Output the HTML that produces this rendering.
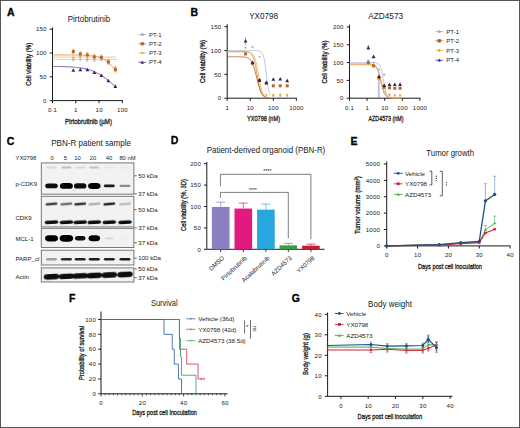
<!DOCTYPE html><html><head><meta charset="utf-8"><style>html,body{margin:0;padding:0;background:#fff;}svg{display:block;}</style></head><body>
<svg width="520" height="428" viewBox="0 0 520 428" font-family='"Liberation Sans", sans-serif'>
<rect x="0" y="0" width="520" height="428" fill="#fff"/>
<text x="7.00" y="15.60" font-size="10.5" text-anchor="start" font-weight="bold" fill="#000" stroke="#000" stroke-width="0.3">A</text>
<text x="89.00" y="21.60" font-size="8.6" text-anchor="middle" textLength="42.4" lengthAdjust="spacingAndGlyphs" fill="#1a1a1a">Pirtobrutinib</text>
<line x1="52.50" y1="27.50" x2="52.50" y2="100.60" stroke="#1a1a1a" stroke-width="1.0" />
<line x1="49.70" y1="100.60" x2="52.50" y2="100.60" stroke="#1a1a1a" stroke-width="1.0" />
<text x="46.70" y="102.80" font-size="6.1" text-anchor="end" font-weight="normal" fill="#1a1a1a" letter-spacing="0.2">0</text>
<line x1="49.70" y1="76.80" x2="52.50" y2="76.80" stroke="#1a1a1a" stroke-width="1.0" />
<text x="46.70" y="79.00" font-size="6.1" text-anchor="end" font-weight="normal" fill="#1a1a1a" letter-spacing="0.2">50</text>
<line x1="49.70" y1="53.00" x2="52.50" y2="53.00" stroke="#1a1a1a" stroke-width="1.0" />
<text x="46.70" y="55.20" font-size="6.1" text-anchor="end" font-weight="normal" fill="#1a1a1a" letter-spacing="0.2">100</text>
<line x1="49.70" y1="29.20" x2="52.50" y2="29.20" stroke="#1a1a1a" stroke-width="1.0" />
<text x="46.70" y="31.40" font-size="6.1" text-anchor="end" font-weight="normal" fill="#1a1a1a" letter-spacing="0.2">150</text>
<line x1="52.50" y1="100.60" x2="122.80" y2="100.60" stroke="#1a1a1a" stroke-width="1.0" />
<line x1="52.50" y1="100.60" x2="52.50" y2="103.20" stroke="#1a1a1a" stroke-width="1.0" />
<text x="52.60" y="112.00" font-size="6.1" text-anchor="middle" font-weight="normal" fill="#1a1a1a" letter-spacing="0.2">0.1</text>
<line x1="75.80" y1="100.60" x2="75.80" y2="103.20" stroke="#1a1a1a" stroke-width="1.0" />
<text x="75.90" y="112.00" font-size="6.1" text-anchor="middle" font-weight="normal" fill="#1a1a1a" letter-spacing="0.2">1</text>
<line x1="99.10" y1="100.60" x2="99.10" y2="103.20" stroke="#1a1a1a" stroke-width="1.0" />
<text x="99.20" y="112.00" font-size="6.1" text-anchor="middle" font-weight="normal" fill="#1a1a1a" letter-spacing="0.2">10</text>
<line x1="122.40" y1="100.60" x2="122.40" y2="103.20" stroke="#1a1a1a" stroke-width="1.0" />
<text x="122.50" y="112.00" font-size="6.1" text-anchor="middle" font-weight="normal" fill="#1a1a1a" letter-spacing="0.2">100</text>
<text x="28.40" y="67.18" font-size="8" text-anchor="middle" textLength="43" lengthAdjust="spacingAndGlyphs" fill="#1a1a1a" font-weight="normal" stroke="#1a1a1a" stroke-width="0.32" transform="rotate(-90 28.40 64.30)">Cell viability (%)</text>
<text x="88.50" y="123.88" font-size="8" text-anchor="middle" textLength="47" lengthAdjust="spacingAndGlyphs" fill="#1a1a1a" font-weight="normal" stroke="#1a1a1a" stroke-width="0.32">Pirtobrutinib (µM)</text>
<polyline points="52.50,59.43 53.58,59.43 54.66,59.43 55.74,59.43 56.82,59.43 57.90,59.43 58.98,59.43 60.06,59.43 61.14,59.43 62.22,59.43 63.30,59.43 64.38,59.43 65.45,59.43 66.53,59.43 67.61,59.43 68.69,59.43 69.77,59.43 70.85,59.43 71.93,59.43 73.01,59.43 74.09,59.43 75.17,59.43 76.25,59.43 77.33,59.43 78.41,59.43 79.49,59.43 80.57,59.43 81.65,59.43 82.73,59.43 83.81,59.43 84.89,59.43 85.97,59.43 87.05,59.43 88.13,59.43 89.21,59.43 90.28,59.43 91.36,59.43 92.44,59.43 93.52,59.43 94.60,59.43 95.68,59.43 96.76,59.43 97.84,59.43 98.92,59.43 100.00,59.43 101.08,59.43 102.16,59.43 103.24,59.43 104.32,59.43 105.40,59.43 106.48,59.43 107.56,59.43 108.64,59.43 109.72,59.43 110.80,59.43 111.88,59.43 112.96,59.43 114.04,59.43 115.11,59.43 116.19,59.43 117.27,59.43" stroke="#c0c4d4" stroke-width="0.8" fill="none" stroke-linejoin="miter" />
<polyline points="52.50,57.05 53.56,57.05 54.61,57.05 55.67,57.05 56.73,57.05 57.78,57.05 58.84,57.05 59.89,57.05 60.95,57.05 62.01,57.05 63.06,57.05 64.12,57.05 65.18,57.05 66.23,57.05 67.29,57.05 68.34,57.05 69.40,57.05 70.46,57.05 71.51,57.05 72.57,57.05 73.63,57.05 74.68,57.05 75.74,57.05 76.79,57.05 77.85,57.05 78.91,57.05 79.96,57.05 81.02,57.05 82.08,57.05 83.13,57.05 84.19,57.05 85.24,57.05 86.30,57.05 87.36,57.05 88.41,57.05 89.47,57.05 90.53,57.05 91.58,57.05 92.64,57.05 93.69,57.05 94.75,57.05 95.81,57.05 96.86,57.05 97.92,57.05 98.98,57.05 100.03,57.05 101.09,57.05 102.14,57.05 103.20,57.05 104.26,57.05 105.31,57.05 106.37,57.05 107.43,57.05 108.48,57.05 109.54,57.05 110.59,57.05 111.65,57.05 112.71,57.05 113.76,57.05 114.82,57.05 115.88,57.05" stroke="#f2b060" stroke-width="0.7" fill="none" stroke-linejoin="miter" />
<polyline points="52.50,54.91 53.55,54.91 54.60,54.91 55.65,54.91 56.69,54.91 57.74,54.91 58.79,54.91 59.84,54.92 60.89,54.92 61.94,54.92 62.98,54.92 64.03,54.93 65.08,54.93 66.13,54.93 67.18,54.94 68.23,54.94 69.28,54.95 70.32,54.95 71.37,54.96 72.42,54.97 73.47,54.98 74.52,54.99 75.57,55.01 76.62,55.02 77.66,55.04 78.71,55.06 79.76,55.09 80.81,55.11 81.86,55.15 82.91,55.18 83.95,55.23 85.00,55.28 86.05,55.33 87.10,55.40 88.15,55.47 89.20,55.56 90.25,55.66 91.29,55.77 92.34,55.90 93.39,56.05 94.44,56.22 95.49,56.42 96.54,56.64 97.59,56.90 98.63,57.19 99.68,57.52 100.73,57.89 101.78,58.32 102.83,58.80 103.88,59.34 104.93,59.95 105.97,60.62 107.02,61.38 108.07,62.21 109.12,63.14 110.17,64.15 111.22,65.25 112.26,66.43 113.31,67.71 114.36,69.07 115.41,70.50" stroke="#d8843a" stroke-width="0.8" fill="none" stroke-linejoin="miter" />
<polyline points="52.50,66.44 53.55,66.46 54.60,66.47 55.65,66.48 56.69,66.50 57.74,66.52 58.79,66.54 59.84,66.56 60.89,66.58 61.94,66.61 62.98,66.64 64.03,66.67 65.08,66.71 66.13,66.75 67.18,66.79 68.23,66.84 69.28,66.90 70.32,66.96 71.37,67.02 72.42,67.09 73.47,67.17 74.52,67.26 75.57,67.35 76.62,67.46 77.66,67.57 78.71,67.70 79.76,67.84 80.81,67.99 81.86,68.16 82.91,68.34 83.95,68.54 85.00,68.75 86.05,68.99 87.10,69.25 88.15,69.53 89.20,69.83 90.25,70.16 91.29,70.52 92.34,70.90 93.39,71.31 94.44,71.76 95.49,72.23 96.54,72.74 97.59,73.28 98.63,73.85 99.68,74.46 100.73,75.10 101.78,75.77 102.83,76.47 103.88,77.21 104.93,77.97 105.97,78.75 107.02,79.56 108.07,80.38 109.12,81.22 110.17,82.07 111.22,82.93 112.26,83.79 113.31,84.65 114.36,85.51 115.41,86.35" stroke="#6a4fae" stroke-width="0.9" fill="none" stroke-linejoin="miter" />
<line x1="73.30" y1="49.19" x2="73.30" y2="53.95" stroke="#d8843a" stroke-width="0.5" />
<line x1="72.30" y1="49.19" x2="74.30" y2="49.19" stroke="#d8843a" stroke-width="0.5" />
<line x1="72.30" y1="53.95" x2="74.30" y2="53.95" stroke="#d8843a" stroke-width="0.5" />
<line x1="73.30" y1="55.38" x2="73.30" y2="60.62" stroke="#f3b870" stroke-width="0.5" />
<line x1="72.30" y1="55.38" x2="74.30" y2="55.38" stroke="#f3b870" stroke-width="0.5" />
<line x1="72.30" y1="60.62" x2="74.30" y2="60.62" stroke="#f3b870" stroke-width="0.5" />
<circle cx="73.30" cy="59.66" r="1.10" fill="#a9b1cc"/>
<path d="M73.30,56.36 L74.70,57.76 L73.30,59.16 L71.90,57.76 Z" fill="#f0a640"/>
<rect x="71.80" y="50.07" width="3.00" height="3.00" fill="#b4662a"/>
<path d="M73.30,68.16 L75.19,71.72 L71.41,71.72 Z" fill="#35215e"/>
<line x1="80.32" y1="51.57" x2="80.32" y2="56.33" stroke="#d8843a" stroke-width="0.5" />
<line x1="79.32" y1="51.57" x2="81.32" y2="51.57" stroke="#d8843a" stroke-width="0.5" />
<line x1="79.32" y1="56.33" x2="81.32" y2="56.33" stroke="#d8843a" stroke-width="0.5" />
<line x1="80.32" y1="54.43" x2="80.32" y2="59.66" stroke="#f3b870" stroke-width="0.5" />
<line x1="79.32" y1="54.43" x2="81.32" y2="54.43" stroke="#f3b870" stroke-width="0.5" />
<line x1="79.32" y1="59.66" x2="81.32" y2="59.66" stroke="#f3b870" stroke-width="0.5" />
<circle cx="80.32" cy="59.66" r="1.10" fill="#a9b1cc"/>
<path d="M80.32,55.41 L81.72,56.81 L80.32,58.21 L78.92,56.81 Z" fill="#f0a640"/>
<rect x="78.82" y="52.45" width="3.00" height="3.00" fill="#b4662a"/>
<path d="M80.32,67.68 L82.21,71.24 L78.43,71.24 Z" fill="#35215e"/>
<line x1="87.33" y1="52.52" x2="87.33" y2="57.28" stroke="#d8843a" stroke-width="0.5" />
<line x1="86.33" y1="52.52" x2="88.33" y2="52.52" stroke="#d8843a" stroke-width="0.5" />
<line x1="86.33" y1="57.28" x2="88.33" y2="57.28" stroke="#d8843a" stroke-width="0.5" />
<line x1="87.33" y1="56.33" x2="87.33" y2="61.57" stroke="#f3b870" stroke-width="0.5" />
<line x1="86.33" y1="56.33" x2="88.33" y2="56.33" stroke="#f3b870" stroke-width="0.5" />
<line x1="86.33" y1="61.57" x2="88.33" y2="61.57" stroke="#f3b870" stroke-width="0.5" />
<circle cx="87.33" cy="60.14" r="1.10" fill="#a9b1cc"/>
<path d="M87.33,57.31 L88.73,58.71 L87.33,60.11 L85.93,58.71 Z" fill="#f0a640"/>
<rect x="85.83" y="53.40" width="3.00" height="3.00" fill="#b4662a"/>
<path d="M87.33,67.68 L89.22,71.24 L85.44,71.24 Z" fill="#35215e"/>
<line x1="94.34" y1="54.43" x2="94.34" y2="59.19" stroke="#d8843a" stroke-width="0.5" />
<line x1="93.34" y1="54.43" x2="95.34" y2="54.43" stroke="#d8843a" stroke-width="0.5" />
<line x1="93.34" y1="59.19" x2="95.34" y2="59.19" stroke="#d8843a" stroke-width="0.5" />
<line x1="94.34" y1="56.33" x2="94.34" y2="61.57" stroke="#f3b870" stroke-width="0.5" />
<line x1="93.34" y1="56.33" x2="95.34" y2="56.33" stroke="#f3b870" stroke-width="0.5" />
<line x1="93.34" y1="61.57" x2="95.34" y2="61.57" stroke="#f3b870" stroke-width="0.5" />
<circle cx="94.34" cy="60.62" r="1.10" fill="#a9b1cc"/>
<path d="M94.34,57.31 L95.74,58.71 L94.34,60.11 L92.94,58.71 Z" fill="#f0a640"/>
<rect x="92.84" y="55.31" width="3.00" height="3.00" fill="#b4662a"/>
<path d="M94.34,70.54 L96.23,74.10 L92.45,74.10 Z" fill="#35215e"/>
<line x1="101.36" y1="54.90" x2="101.36" y2="59.66" stroke="#d8843a" stroke-width="0.5" />
<line x1="100.36" y1="54.90" x2="102.36" y2="54.90" stroke="#d8843a" stroke-width="0.5" />
<line x1="100.36" y1="59.66" x2="102.36" y2="59.66" stroke="#d8843a" stroke-width="0.5" />
<line x1="101.36" y1="55.38" x2="101.36" y2="60.62" stroke="#f3b870" stroke-width="0.5" />
<line x1="100.36" y1="55.38" x2="102.36" y2="55.38" stroke="#f3b870" stroke-width="0.5" />
<line x1="100.36" y1="60.62" x2="102.36" y2="60.62" stroke="#f3b870" stroke-width="0.5" />
<circle cx="101.36" cy="60.14" r="1.10" fill="#a9b1cc"/>
<path d="M101.36,56.36 L102.76,57.76 L101.36,59.16 L99.96,57.76 Z" fill="#f0a640"/>
<rect x="99.86" y="55.78" width="3.00" height="3.00" fill="#b4662a"/>
<path d="M101.36,73.39 L103.25,76.96 L99.47,76.96 Z" fill="#35215e"/>
<line x1="108.37" y1="59.66" x2="108.37" y2="64.42" stroke="#d8843a" stroke-width="0.5" />
<line x1="107.37" y1="59.66" x2="109.37" y2="59.66" stroke="#d8843a" stroke-width="0.5" />
<line x1="107.37" y1="64.42" x2="109.37" y2="64.42" stroke="#d8843a" stroke-width="0.5" />
<line x1="108.37" y1="58.24" x2="108.37" y2="63.47" stroke="#f3b870" stroke-width="0.5" />
<line x1="107.37" y1="58.24" x2="109.37" y2="58.24" stroke="#f3b870" stroke-width="0.5" />
<line x1="107.37" y1="63.47" x2="109.37" y2="63.47" stroke="#f3b870" stroke-width="0.5" />
<circle cx="108.37" cy="60.62" r="1.10" fill="#a9b1cc"/>
<path d="M108.37,59.22 L109.77,60.62 L108.37,62.02 L106.97,60.62 Z" fill="#f0a640"/>
<rect x="106.87" y="60.54" width="3.00" height="3.00" fill="#b4662a"/>
<path d="M108.37,78.63 L110.26,82.19 L106.48,82.19 Z" fill="#35215e"/>
<line x1="115.39" y1="67.28" x2="115.39" y2="72.04" stroke="#d8843a" stroke-width="0.5" />
<line x1="114.39" y1="67.28" x2="116.39" y2="67.28" stroke="#d8843a" stroke-width="0.5" />
<line x1="114.39" y1="72.04" x2="116.39" y2="72.04" stroke="#d8843a" stroke-width="0.5" />
<line x1="115.39" y1="65.85" x2="115.39" y2="71.09" stroke="#f3b870" stroke-width="0.5" />
<line x1="114.39" y1="65.85" x2="116.39" y2="65.85" stroke="#f3b870" stroke-width="0.5" />
<line x1="114.39" y1="71.09" x2="116.39" y2="71.09" stroke="#f3b870" stroke-width="0.5" />
<circle cx="115.39" cy="67.28" r="1.10" fill="#a9b1cc"/>
<path d="M115.39,66.83 L116.79,68.23 L115.39,69.63 L113.99,68.23 Z" fill="#f0a640"/>
<rect x="113.89" y="68.16" width="3.00" height="3.00" fill="#b4662a"/>
<path d="M115.39,84.34 L117.28,87.90 L113.50,87.90 Z" fill="#35215e"/>
<line x1="138.50" y1="34.60" x2="146.20" y2="34.60" stroke="#a9b1cc" stroke-width="0.9" />
<circle cx="142.30" cy="34.60" r="1.60" fill="#a9b1cc"/>
<text x="149.00" y="36.70" font-size="6.0" text-anchor="start" font-weight="normal" fill="#1a1a1a" >PT-1</text>
<line x1="138.50" y1="43.80" x2="146.20" y2="43.80" stroke="#d8843a" stroke-width="0.9" />
<rect x="140.70" y="42.20" width="3.20" height="3.20" fill="#b4662a"/>
<text x="149.00" y="45.90" font-size="6.0" text-anchor="start" font-weight="normal" fill="#1a1a1a" >PT-2</text>
<line x1="138.50" y1="53.00" x2="146.20" y2="53.00" stroke="#f0a640" stroke-width="0.9" />
<path d="M142.30,51.40 L143.90,53.00 L142.30,54.60 L140.70,53.00 Z" fill="#f0a640"/>
<text x="149.00" y="55.10" font-size="6.0" text-anchor="start" font-weight="normal" fill="#1a1a1a" >PT-3</text>
<line x1="138.50" y1="62.30" x2="146.20" y2="62.30" stroke="#6a5aa0" stroke-width="0.9" />
<path d="M142.30,60.54 L143.98,63.71 L140.62,63.71 Z" fill="#35215e"/>
<text x="149.00" y="64.40" font-size="6.0" text-anchor="start" font-weight="normal" fill="#1a1a1a" >PT-4</text>
<text x="190.50" y="15.80" font-size="10.5" text-anchor="start" font-weight="bold" fill="#000" stroke="#000" stroke-width="0.3">B</text>
<text x="263.60" y="19.10" font-size="8.6" text-anchor="middle" textLength="28.9" lengthAdjust="spacingAndGlyphs" fill="#1a1a1a">YX0798</text>
<line x1="227.20" y1="24.20" x2="227.20" y2="98.20" stroke="#1a1a1a" stroke-width="1.0" />
<line x1="224.40" y1="98.20" x2="227.20" y2="98.20" stroke="#1a1a1a" stroke-width="1.0" />
<text x="221.40" y="100.40" font-size="6.1" text-anchor="end" font-weight="normal" fill="#1a1a1a" letter-spacing="0.2">0</text>
<line x1="224.40" y1="74.37" x2="227.20" y2="74.37" stroke="#1a1a1a" stroke-width="1.0" />
<text x="221.40" y="76.56" font-size="6.1" text-anchor="end" font-weight="normal" fill="#1a1a1a" letter-spacing="0.2">50</text>
<line x1="224.40" y1="50.53" x2="227.20" y2="50.53" stroke="#1a1a1a" stroke-width="1.0" />
<text x="221.40" y="52.73" font-size="6.1" text-anchor="end" font-weight="normal" fill="#1a1a1a" letter-spacing="0.2">100</text>
<line x1="224.40" y1="26.70" x2="227.20" y2="26.70" stroke="#1a1a1a" stroke-width="1.0" />
<text x="221.40" y="28.89" font-size="6.1" text-anchor="end" font-weight="normal" fill="#1a1a1a" letter-spacing="0.2">150</text>
<line x1="227.20" y1="98.20" x2="296.80" y2="98.20" stroke="#1a1a1a" stroke-width="1.0" />
<line x1="227.20" y1="98.20" x2="227.20" y2="100.80" stroke="#1a1a1a" stroke-width="1.0" />
<text x="227.30" y="109.60" font-size="6.1" text-anchor="middle" font-weight="normal" fill="#1a1a1a" letter-spacing="0.2">1</text>
<line x1="250.25" y1="98.20" x2="250.25" y2="100.80" stroke="#1a1a1a" stroke-width="1.0" />
<text x="250.35" y="109.60" font-size="6.1" text-anchor="middle" font-weight="normal" fill="#1a1a1a" letter-spacing="0.2">10</text>
<line x1="273.30" y1="98.20" x2="273.30" y2="100.80" stroke="#1a1a1a" stroke-width="1.0" />
<text x="273.40" y="109.60" font-size="6.1" text-anchor="middle" font-weight="normal" fill="#1a1a1a" letter-spacing="0.2">100</text>
<line x1="296.35" y1="98.20" x2="296.35" y2="100.80" stroke="#1a1a1a" stroke-width="1.0" />
<text x="296.45" y="109.60" font-size="6.1" text-anchor="middle" font-weight="normal" fill="#1a1a1a" letter-spacing="0.2">1000</text>
<text x="202.00" y="64.38" font-size="8" text-anchor="middle" textLength="43" lengthAdjust="spacingAndGlyphs" fill="#1a1a1a" font-weight="normal" stroke="#1a1a1a" stroke-width="0.32" transform="rotate(-90 202.00 61.50)">Cell viability (%)</text>
<text x="263.50" y="121.08" font-size="8" text-anchor="middle" textLength="33" lengthAdjust="spacingAndGlyphs" fill="#1a1a1a" font-weight="normal" stroke="#1a1a1a" stroke-width="0.32">YX0798 (nM)</text>
<polyline points="227.20,50.53 227.92,50.53 228.64,50.53 229.36,50.53 230.07,50.53 230.79,50.53 231.51,50.53 232.23,50.53 232.95,50.53 233.67,50.53 234.38,50.53 235.10,50.53 235.82,50.53 236.54,50.53 237.26,50.53 237.98,50.53 238.69,50.53 239.41,50.53 240.13,50.53 240.85,50.53 241.57,50.53 242.29,50.53 243.00,50.53 243.72,50.53 244.44,50.53 245.16,50.53 245.88,50.53 246.60,50.53 247.31,50.53 248.03,50.53 248.75,50.53 249.47,50.53 250.19,50.53 250.91,50.53 251.63,50.53 252.34,50.53 253.06,50.53 253.78,50.54 254.50,50.54 255.22,50.55 255.94,50.56 256.65,50.58 257.37,50.62 258.09,50.68 258.81,50.77 259.53,50.93 260.25,51.18 260.96,51.60 261.68,52.27 262.40,53.34 263.12,55.01 263.84,57.50 264.56,61.05 265.27,65.72 265.99,71.31 266.71,77.27 267.43,82.88 268.15,87.58 268.87,91.15 269.59,93.67 270.30,95.35" stroke="#9fb2d6" stroke-width="0.7" fill="none" stroke-linejoin="miter" />
<polyline points="227.20,51.48 227.89,51.48 228.58,51.48 229.27,51.48 229.97,51.48 230.66,51.48 231.35,51.48 232.04,51.48 232.73,51.48 233.42,51.48 234.11,51.48 234.81,51.48 235.50,51.48 236.19,51.48 236.88,51.49 237.57,51.49 238.26,51.49 238.96,51.49 239.65,51.49 240.34,51.49 241.03,51.50 241.72,51.50 242.41,51.51 243.10,51.52 243.80,51.54 244.49,51.57 245.18,51.60 245.87,51.65 246.56,51.71 247.25,51.81 247.94,51.94 248.64,52.13 249.33,52.39 250.02,52.75 250.71,53.25 251.40,53.94 252.09,54.88 252.79,56.15 253.48,57.81 254.17,59.95 254.86,62.61 255.55,65.79 256.24,69.43 256.93,73.36 257.63,77.38 258.32,81.26 259.01,84.78 259.70,87.83 260.39,90.35 261.08,92.36 261.77,93.91 262.47,95.08 263.16,95.95 263.85,96.58 264.54,97.04 265.23,97.37 265.92,97.61 266.62,97.78 267.31,97.90 268.00,97.99 268.69,98.05" stroke="#d98a3a" stroke-width="0.8" fill="none" stroke-linejoin="miter" />
<polyline points="227.20,51.96 227.89,51.96 228.58,51.96 229.27,51.96 229.97,51.96 230.66,51.96 231.35,51.96 232.04,51.96 232.73,51.96 233.42,51.96 234.11,51.96 234.81,51.96 235.50,51.96 236.19,51.96 236.88,51.96 237.57,51.96 238.26,51.96 238.96,51.96 239.65,51.96 240.34,51.97 241.03,51.97 241.72,51.97 242.41,51.97 243.10,51.98 243.80,51.99 244.49,52.00 245.18,52.02 245.87,52.04 246.56,52.07 247.25,52.12 247.94,52.19 248.64,52.28 249.33,52.41 250.02,52.59 250.71,52.85 251.40,53.20 252.09,53.70 252.79,54.38 253.48,55.30 254.17,56.54 254.86,58.18 255.55,60.28 256.24,62.90 256.93,66.04 257.63,69.63 258.32,73.52 259.01,77.50 259.70,81.34 260.39,84.85 261.08,87.87 261.77,90.38 262.47,92.38 263.16,93.92 263.85,95.09 264.54,95.95 265.23,96.58 265.92,97.04 266.62,97.38 267.31,97.61 268.00,97.78 268.69,97.90" stroke="#f0a640" stroke-width="0.7" fill="none" stroke-linejoin="miter" />
<polyline points="227.20,56.73 227.89,56.73 228.58,56.73 229.27,56.73 229.97,56.73 230.66,56.73 231.35,56.73 232.04,56.73 232.73,56.73 233.42,56.73 234.11,56.73 234.81,56.73 235.50,56.74 236.19,56.74 236.88,56.74 237.57,56.75 238.26,56.75 238.96,56.76 239.65,56.77 240.34,56.79 241.03,56.81 241.72,56.83 242.41,56.87 243.10,56.91 243.80,56.97 244.49,57.04 245.18,57.14 245.87,57.27 246.56,57.44 247.25,57.67 247.94,57.96 248.64,58.33 249.33,58.82 250.02,59.44 250.71,60.23 251.40,61.22 252.09,62.46 252.79,63.96 253.48,65.76 254.17,67.87 254.86,70.26 255.55,72.88 256.24,75.68 256.93,78.54 257.63,81.36 258.32,84.03 259.01,86.49 259.70,88.66 260.39,90.54 261.08,92.12 261.77,93.42 262.47,94.47 263.16,95.31 263.85,95.97 264.54,96.48 265.23,96.89 265.92,97.20 266.62,97.43 267.31,97.62 268.00,97.76 268.69,97.86" stroke="#a8602a" stroke-width="0.8" fill="none" stroke-linejoin="miter" />
<line x1="245.55" y1="37.66" x2="245.55" y2="44.33" stroke="#7a6aaa" stroke-width="0.5" />
<line x1="244.55" y1="37.66" x2="246.55" y2="37.66" stroke="#7a6aaa" stroke-width="0.5" />
<line x1="244.55" y1="44.33" x2="246.55" y2="44.33" stroke="#7a6aaa" stroke-width="0.5" />
<circle cx="245.55" cy="47.67" r="1.10" fill="#a9b1cc"/>
<path d="M245.55,53.04 L246.85,54.34 L245.55,55.64 L244.25,54.34 Z" fill="#f0a640"/>
<rect x="244.05" y="52.37" width="3.00" height="3.00" fill="#b4662a"/>
<path d="M245.55,39.02 L247.44,42.58 L243.66,42.58 Z" fill="#35215e"/>
<circle cx="252.48" cy="47.19" r="1.10" fill="#a9b1cc"/>
<path d="M252.48,63.05 L253.78,64.35 L252.48,65.65 L251.18,64.35 Z" fill="#f0a640"/>
<rect x="250.98" y="61.90" width="3.00" height="3.00" fill="#b4662a"/>
<path d="M252.48,60.47 L254.37,64.03 L250.59,64.03 Z" fill="#35215e"/>
<circle cx="259.42" cy="56.73" r="1.10" fill="#a9b1cc"/>
<path d="M259.42,79.26 L260.72,80.56 L259.42,81.86 L258.12,80.56 Z" fill="#f0a640"/>
<rect x="257.92" y="79.06" width="3.00" height="3.00" fill="#b4662a"/>
<path d="M259.42,78.11 L261.31,81.67 L257.53,81.67 Z" fill="#35215e"/>
<circle cx="266.36" cy="82.95" r="1.10" fill="#a9b1cc"/>
<path d="M266.36,93.56 L267.66,94.86 L266.36,96.16 L265.06,94.86 Z" fill="#f0a640"/>
<rect x="264.86" y="81.92" width="3.00" height="3.00" fill="#b4662a"/>
<path d="M266.36,80.49 L268.25,84.05 L264.47,84.05 Z" fill="#35215e"/>
<circle cx="273.30" cy="95.82" r="1.10" fill="#a9b1cc"/>
<path d="M273.30,93.56 L274.60,94.86 L273.30,96.16 L272.00,94.86 Z" fill="#f0a640"/>
<rect x="271.80" y="84.31" width="3.00" height="3.00" fill="#b4662a"/>
<path d="M273.30,77.15 L275.19,80.72 L271.41,80.72 Z" fill="#35215e"/>
<circle cx="280.24" cy="95.82" r="1.10" fill="#a9b1cc"/>
<path d="M280.24,93.09 L281.54,94.39 L280.24,95.69 L278.94,94.39 Z" fill="#f0a640"/>
<rect x="278.74" y="84.31" width="3.00" height="3.00" fill="#b4662a"/>
<path d="M280.24,76.91 L282.13,80.48 L278.35,80.48 Z" fill="#35215e"/>
<circle cx="287.18" cy="95.82" r="1.10" fill="#a9b1cc"/>
<path d="M287.18,93.56 L288.48,94.86 L287.18,96.16 L285.88,94.86 Z" fill="#f0a640"/>
<rect x="285.68" y="84.31" width="3.00" height="3.00" fill="#b4662a"/>
<path d="M287.18,78.58 L289.07,82.15 L285.29,82.15 Z" fill="#35215e"/>
<text x="385.70" y="19.10" font-size="8.6" text-anchor="middle" textLength="34.7" lengthAdjust="spacingAndGlyphs" fill="#1a1a1a">AZD4573</text>
<line x1="349.50" y1="24.70" x2="349.50" y2="98.20" stroke="#1a1a1a" stroke-width="1.0" />
<line x1="346.70" y1="98.20" x2="349.50" y2="98.20" stroke="#1a1a1a" stroke-width="1.0" />
<text x="343.70" y="100.40" font-size="6.1" text-anchor="end" font-weight="normal" fill="#1a1a1a" letter-spacing="0.2">0</text>
<line x1="346.70" y1="80.40" x2="349.50" y2="80.40" stroke="#1a1a1a" stroke-width="1.0" />
<text x="343.70" y="82.60" font-size="6.1" text-anchor="end" font-weight="normal" fill="#1a1a1a" letter-spacing="0.2">50</text>
<line x1="346.70" y1="62.60" x2="349.50" y2="62.60" stroke="#1a1a1a" stroke-width="1.0" />
<text x="343.70" y="64.80" font-size="6.1" text-anchor="end" font-weight="normal" fill="#1a1a1a" letter-spacing="0.2">100</text>
<line x1="346.70" y1="44.80" x2="349.50" y2="44.80" stroke="#1a1a1a" stroke-width="1.0" />
<text x="343.70" y="47.00" font-size="6.1" text-anchor="end" font-weight="normal" fill="#1a1a1a" letter-spacing="0.2">150</text>
<line x1="346.70" y1="27.00" x2="349.50" y2="27.00" stroke="#1a1a1a" stroke-width="1.0" />
<text x="343.70" y="29.20" font-size="6.1" text-anchor="end" font-weight="normal" fill="#1a1a1a" letter-spacing="0.2">200</text>
<line x1="349.50" y1="98.20" x2="420.20" y2="98.20" stroke="#1a1a1a" stroke-width="1.0" />
<line x1="349.50" y1="98.20" x2="349.50" y2="100.80" stroke="#1a1a1a" stroke-width="1.0" />
<text x="349.60" y="109.60" font-size="6.1" text-anchor="middle" font-weight="normal" fill="#1a1a1a" letter-spacing="0.2">0.1</text>
<line x1="367.10" y1="98.20" x2="367.10" y2="100.80" stroke="#1a1a1a" stroke-width="1.0" />
<text x="367.20" y="109.60" font-size="6.1" text-anchor="middle" font-weight="normal" fill="#1a1a1a" letter-spacing="0.2">1</text>
<line x1="384.70" y1="98.20" x2="384.70" y2="100.80" stroke="#1a1a1a" stroke-width="1.0" />
<text x="384.80" y="109.60" font-size="6.1" text-anchor="middle" font-weight="normal" fill="#1a1a1a" letter-spacing="0.2">10</text>
<line x1="402.30" y1="98.20" x2="402.30" y2="100.80" stroke="#1a1a1a" stroke-width="1.0" />
<text x="402.40" y="109.60" font-size="6.1" text-anchor="middle" font-weight="normal" fill="#1a1a1a" letter-spacing="0.2">100</text>
<line x1="419.90" y1="98.20" x2="419.90" y2="100.80" stroke="#1a1a1a" stroke-width="1.0" />
<text x="420.00" y="109.60" font-size="6.1" text-anchor="middle" font-weight="normal" fill="#1a1a1a" letter-spacing="0.2">1000</text>
<text x="324.60" y="64.88" font-size="8" text-anchor="middle" textLength="43" lengthAdjust="spacingAndGlyphs" fill="#1a1a1a" font-weight="normal" stroke="#1a1a1a" stroke-width="0.32" transform="rotate(-90 324.60 62.00)">Cell viability (%)</text>
<text x="386.00" y="121.08" font-size="8" text-anchor="middle" textLength="35" lengthAdjust="spacingAndGlyphs" fill="#1a1a1a" font-weight="normal" stroke="#1a1a1a" stroke-width="0.32">AZD4573 (nM)</text>
<polyline points="349.50,62.60 350.37,62.60 351.23,62.60 352.10,62.60 352.96,62.60 353.83,62.60 354.69,62.60 355.56,62.60 356.42,62.60 357.29,62.60 358.15,62.60 359.02,62.60 359.88,62.60 360.75,62.60 361.61,62.60 362.48,62.60 363.35,62.60 364.21,62.60 365.08,62.60 365.94,62.60 366.81,62.60 367.67,62.60 368.54,62.60 369.40,62.60 370.27,62.61 371.13,62.61 372.00,62.62 372.86,62.63 373.73,62.66 374.59,62.71 375.46,62.79 376.33,62.93 377.19,63.18 378.06,63.61 378.92,64.34 379.79,65.56 380.65,67.50 381.52,70.41 382.38,74.39 383.25,79.18 384.11,84.16 384.98,88.59 385.84,92.02 386.71,94.41 387.57,95.94 388.44,96.88 389.31,97.44 390.17,97.76 391.04,97.95 391.90,98.06 392.77,98.12 393.63,98.15 394.50,98.17 395.36,98.19 396.23,98.19 397.09,98.20 397.96,98.20 398.82,98.20 399.69,98.20 400.55,98.20 401.42,98.20" stroke="#9fb2d6" stroke-width="0.7" fill="none" stroke-linejoin="miter" />
<polyline points="349.50,64.02 350.37,64.02 351.23,64.02 352.10,64.02 352.96,64.02 353.83,64.02 354.69,64.02 355.56,64.02 356.42,64.02 357.29,64.02 358.15,64.02 359.02,64.02 359.88,64.02 360.75,64.02 361.61,64.03 362.48,64.03 363.35,64.03 364.21,64.03 365.08,64.03 365.94,64.04 366.81,64.05 367.67,64.06 368.54,64.08 369.40,64.11 370.27,64.16 371.13,64.24 372.00,64.36 372.86,64.55 373.73,64.85 374.59,65.31 375.46,66.00 376.33,67.03 377.19,68.52 378.06,70.60 378.92,73.35 379.79,76.70 380.65,80.47 381.52,84.30 382.38,87.83 383.25,90.79 384.11,93.08 384.98,94.76 385.84,95.93 386.71,96.72 387.57,97.24 388.44,97.59 389.31,97.81 390.17,97.95 391.04,98.04 391.90,98.10 392.77,98.14 393.63,98.16 394.50,98.17 395.36,98.18 396.23,98.19 397.09,98.19 397.96,98.20 398.82,98.20 399.69,98.20 400.55,98.20 401.42,98.20" stroke="#c87a30" stroke-width="0.8" fill="none" stroke-linejoin="miter" />
<polyline points="349.50,64.74 350.37,64.74 351.23,64.74 352.10,64.74 352.96,64.74 353.83,64.74 354.69,64.74 355.56,64.74 356.42,64.74 357.29,64.74 358.15,64.74 359.02,64.74 359.88,64.74 360.75,64.74 361.61,64.74 362.48,64.74 363.35,64.74 364.21,64.75 365.08,64.75 365.94,64.76 366.81,64.78 367.67,64.80 368.54,64.83 369.40,64.87 370.27,64.94 371.13,65.04 372.00,65.18 372.86,65.39 373.73,65.70 374.59,66.15 375.46,66.80 376.33,67.71 377.19,68.97 378.06,70.67 378.92,72.86 379.79,75.53 380.65,78.60 381.52,81.89 382.38,85.14 383.25,88.13 384.11,90.68 384.98,92.74 385.84,94.32 386.71,95.49 387.57,96.32 388.44,96.91 389.31,97.32 390.17,97.61 391.04,97.80 391.90,97.93 392.77,98.02 393.63,98.08 394.50,98.12 395.36,98.14 396.23,98.16 397.09,98.17 397.96,98.18 398.82,98.19 399.69,98.19 400.55,98.19 401.42,98.20" stroke="#f0a640" stroke-width="0.8" fill="none" stroke-linejoin="miter" />
<line x1="378.90" y1="78.62" x2="378.90" y2="98.20" stroke="#6a5aa0" stroke-width="0.7" />
<line x1="368.30" y1="45.51" x2="368.30" y2="49.78" stroke="#7a6aaa" stroke-width="0.5" />
<line x1="367.30" y1="45.51" x2="369.30" y2="45.51" stroke="#7a6aaa" stroke-width="0.5" />
<line x1="367.30" y1="49.78" x2="369.30" y2="49.78" stroke="#7a6aaa" stroke-width="0.5" />
<circle cx="368.30" cy="60.46" r="1.10" fill="#a9b1cc"/>
<path d="M368.30,62.72 L369.60,64.02 L368.30,65.32 L367.00,64.02 Z" fill="#f0a640"/>
<rect x="366.80" y="61.10" width="3.00" height="3.00" fill="#b4662a"/>
<path d="M368.30,45.67 L370.19,49.23 L366.41,49.23 Z" fill="#35215e"/>
<circle cx="373.60" cy="62.60" r="1.10" fill="#a9b1cc"/>
<path d="M373.60,64.15 L374.90,65.45 L373.60,66.75 L372.30,65.45 Z" fill="#f0a640"/>
<rect x="372.10" y="64.30" width="3.00" height="3.00" fill="#b4662a"/>
<path d="M373.60,54.57 L375.49,58.13 L371.71,58.13 Z" fill="#35215e"/>
<circle cx="378.90" cy="69.72" r="1.10" fill="#a9b1cc"/>
<path d="M378.90,76.25 L380.20,77.55 L378.90,78.85 L377.60,77.55 Z" fill="#f0a640"/>
<rect x="377.40" y="76.41" width="3.00" height="3.00" fill="#b4662a"/>
<path d="M378.90,74.50 L380.79,78.07 L377.01,78.07 Z" fill="#35215e"/>
<circle cx="384.19" cy="74.70" r="1.10" fill="#a9b1cc"/>
<path d="M384.19,83.37 L385.49,84.67 L384.19,85.97 L382.89,84.67 Z" fill="#f0a640"/>
<rect x="382.69" y="85.66" width="3.00" height="3.00" fill="#b4662a"/>
<path d="M384.19,83.40 L386.08,86.97 L382.30,86.97 Z" fill="#35215e"/>
<circle cx="389.49" cy="94.64" r="1.10" fill="#a9b1cc"/>
<path d="M389.49,94.05 L390.79,95.35 L389.49,96.65 L388.19,95.35 Z" fill="#f0a640"/>
<rect x="387.99" y="86.38" width="3.00" height="3.00" fill="#b4662a"/>
<path d="M389.49,82.51 L391.38,86.08 L387.60,86.08 Z" fill="#35215e"/>
<circle cx="394.79" cy="95.35" r="1.10" fill="#a9b1cc"/>
<path d="M394.79,94.05 L396.09,95.35 L394.79,96.65 L393.49,95.35 Z" fill="#f0a640"/>
<rect x="393.29" y="86.73" width="3.00" height="3.00" fill="#b4662a"/>
<path d="M394.79,82.51 L396.68,86.08 L392.90,86.08 Z" fill="#35215e"/>
<circle cx="400.09" cy="95.35" r="1.10" fill="#a9b1cc"/>
<path d="M400.09,94.05 L401.39,95.35 L400.09,96.65 L398.79,95.35 Z" fill="#f0a640"/>
<rect x="398.59" y="86.73" width="3.00" height="3.00" fill="#b4662a"/>
<path d="M400.09,82.34 L401.98,85.90 L398.20,85.90 Z" fill="#35215e"/>
<line x1="435.40" y1="31.50" x2="443.20" y2="31.50" stroke="#b0b0d0" stroke-width="0.9" />
<circle cx="439.30" cy="31.50" r="1.60" fill="#b0b0d0"/>
<text x="446.30" y="33.60" font-size="6.0" text-anchor="start" font-weight="normal" fill="#1a1a1a" >PT-1</text>
<line x1="435.40" y1="40.80" x2="443.20" y2="40.80" stroke="#e08040" stroke-width="0.9" />
<rect x="437.70" y="39.20" width="3.20" height="3.20" fill="#a0522d"/>
<text x="446.30" y="42.90" font-size="6.0" text-anchor="start" font-weight="normal" fill="#1a1a1a" >PT-2</text>
<line x1="435.40" y1="50.40" x2="443.20" y2="50.40" stroke="#f0c060" stroke-width="0.9" />
<path d="M439.30,48.80 L440.90,50.40 L439.30,52.00 L437.70,50.40 Z" fill="#e8a030"/>
<text x="446.30" y="52.50" font-size="6.0" text-anchor="start" font-weight="normal" fill="#1a1a1a" >PT-3</text>
<line x1="435.40" y1="60.20" x2="443.20" y2="60.20" stroke="#5050b0" stroke-width="0.9" />
<path d="M439.30,58.44 L440.98,61.61 L437.62,61.61 Z" fill="#2a2a80"/>
<text x="446.30" y="62.30" font-size="6.0" text-anchor="start" font-weight="normal" fill="#1a1a1a" >PT-4</text>
<defs><filter id="bl" x="-20%" y="-100%" width="140%" height="300%"><feGaussianBlur stdDeviation="0.55"/></filter><filter id="bl2" x="-20%" y="-100%" width="140%" height="300%"><feGaussianBlur stdDeviation="0.35"/></filter></defs>
<text x="6.70" y="144.80" font-size="10.5" text-anchor="start" font-weight="bold" fill="#000" stroke="#000" stroke-width="0.3">C</text>
<text x="91.15" y="145.70" font-size="8.6" text-anchor="middle" textLength="79.9" lengthAdjust="spacingAndGlyphs" fill="#1a1a1a">PBN-R patient sample</text>
<text x="15.60" y="159.80" font-size="5.8" text-anchor="start" font-weight="normal" fill="#1a1a1a" >YX0798</text>
<text x="52.00" y="159.80" font-size="5.8" text-anchor="middle" font-weight="normal" fill="#1a1a1a" >0</text>
<text x="65.40" y="159.80" font-size="5.8" text-anchor="middle" font-weight="normal" fill="#1a1a1a" >5</text>
<text x="77.50" y="159.80" font-size="5.8" text-anchor="middle" font-weight="normal" fill="#1a1a1a" >10</text>
<text x="92.90" y="159.80" font-size="5.8" text-anchor="middle" font-weight="normal" fill="#1a1a1a" >20</text>
<text x="109.00" y="159.80" font-size="5.8" text-anchor="middle" font-weight="normal" fill="#1a1a1a" >40</text>
<text x="119.40" y="159.80" font-size="5.8" text-anchor="start" font-weight="normal" fill="#1a1a1a" >80 nM</text>
<rect x="41.3" y="162.9" width="92.60000000000001" height="31.299999999999983" fill="#f2f2f2" stroke="#6a6a6a" stroke-width="0.9"/>
<rect x="41.3" y="196.3" width="92.60000000000001" height="30.599999999999994" fill="#f2f2f2" stroke="#6a6a6a" stroke-width="0.9"/>
<rect x="41.3" y="228.3" width="92.60000000000001" height="19.19999999999999" fill="#f2f2f2" stroke="#6a6a6a" stroke-width="0.9"/>
<rect x="41.3" y="250.2" width="92.60000000000001" height="14.800000000000011" fill="#f2f2f2" stroke="#6a6a6a" stroke-width="0.9"/>
<rect x="41.3" y="267.9" width="92.60000000000001" height="14.100000000000023" fill="#f2f2f2" stroke="#6a6a6a" stroke-width="0.9"/>
<rect x="45.25" y="183.60" width="12.50" height="4.60" rx="2.99" ry="2.30" fill="#0a0a0a" filter="url(#bl)"/>
<rect x="59.90" y="183.00" width="13.00" height="5.80" rx="3.77" ry="2.90" fill="#050505" filter="url(#bl)"/>
<rect x="73.95" y="183.30" width="12.50" height="5.20" rx="3.38" ry="2.60" fill="#0a0a0a" filter="url(#bl)"/>
<rect x="88.05" y="182.90" width="12.50" height="6.00" rx="3.90" ry="3.00" fill="#050505" filter="url(#bl)"/>
<rect x="103.80" y="184.50" width="11.00" height="2.80" rx="1.82" ry="1.40" fill="#1a1a1a" filter="url(#bl)"/>
<rect x="119.50" y="184.80" width="11.00" height="2.20" rx="1.43" ry="1.10" fill="#8a8a8a" filter="url(#bl)"/>
<rect x="46.50" y="166.40" width="10.00" height="2.00" rx="1.30" ry="1.00" fill="#d8d8d8" filter="url(#bl)"/>
<rect x="61.40" y="166.40" width="10.00" height="2.00" rx="1.30" ry="1.00" fill="#bdbdbd" filter="url(#bl)"/>
<rect x="75.20" y="166.40" width="10.00" height="2.00" rx="1.30" ry="1.00" fill="#dadada" filter="url(#bl)"/>
<rect x="89.30" y="166.40" width="10.00" height="2.00" rx="1.30" ry="1.00" fill="#c2c2c2" filter="url(#bl)"/>
<rect x="104.30" y="166.40" width="10.00" height="2.00" rx="1.30" ry="1.00" fill="#e8e8e8" filter="url(#bl)"/>
<rect x="120.00" y="166.40" width="10.00" height="2.00" rx="1.30" ry="1.00" fill="#eaeaea" filter="url(#bl)"/>
<rect x="45.50" y="202.70" width="12.00" height="2.60" rx="1.69" ry="1.30" fill="#404040" filter="url(#bl)" transform="rotate(-5 51.50 204.00)"/>
<rect x="60.40" y="202.70" width="12.00" height="2.60" rx="1.69" ry="1.30" fill="#707070" filter="url(#bl)" transform="rotate(-5 66.40 204.00)"/>
<rect x="74.20" y="202.70" width="12.00" height="2.60" rx="1.69" ry="1.30" fill="#303030" filter="url(#bl)" transform="rotate(-5 80.20 204.00)"/>
<rect x="88.30" y="202.70" width="12.00" height="2.60" rx="1.69" ry="1.30" fill="#b0b0b0" filter="url(#bl)" transform="rotate(-5 94.30 204.00)"/>
<rect x="103.30" y="202.70" width="12.00" height="2.60" rx="1.69" ry="1.30" fill="#252525" filter="url(#bl)" transform="rotate(-5 109.30 204.00)"/>
<rect x="119.00" y="202.70" width="12.00" height="2.60" rx="1.69" ry="1.30" fill="#bdbdbd" filter="url(#bl)" transform="rotate(-5 125.00 204.00)"/>
<rect x="44.75" y="220.50" width="13.50" height="3.60" rx="2.34" ry="1.80" fill="#111111" filter="url(#bl)" transform="rotate(-3 51.50 222.30)"/>
<rect x="59.65" y="220.50" width="13.50" height="3.60" rx="2.34" ry="1.80" fill="#111111" filter="url(#bl)" transform="rotate(-3 66.40 222.30)"/>
<rect x="73.45" y="220.50" width="13.50" height="3.60" rx="2.34" ry="1.80" fill="#111111" filter="url(#bl)" transform="rotate(-3 80.20 222.30)"/>
<rect x="87.55" y="220.50" width="13.50" height="3.60" rx="2.34" ry="1.80" fill="#111111" filter="url(#bl)" transform="rotate(-3 94.30 222.30)"/>
<rect x="102.55" y="220.50" width="13.50" height="3.60" rx="2.34" ry="1.80" fill="#111111" filter="url(#bl)" transform="rotate(-3 109.30 222.30)"/>
<rect x="118.25" y="220.50" width="13.50" height="3.60" rx="2.34" ry="1.80" fill="#111111" filter="url(#bl)" transform="rotate(-3 125.00 222.30)"/>
<rect x="45.00" y="235.20" width="13.00" height="6.20" rx="4.03" ry="3.10" fill="#050505" filter="url(#bl)"/>
<rect x="59.65" y="234.90" width="13.50" height="6.80" rx="4.42" ry="3.40" fill="#050505" filter="url(#bl)"/>
<rect x="74.95" y="236.10" width="10.50" height="4.40" rx="2.86" ry="2.20" fill="#0c0c0c" filter="url(#bl)"/>
<rect x="88.55" y="235.30" width="11.50" height="6.00" rx="3.90" ry="3.00" fill="#050505" filter="url(#bl)"/>
<rect x="105.30" y="237.05" width="8.00" height="2.50" rx="1.62" ry="1.25" fill="#dcdcdc" filter="url(#bl)"/>
<rect x="121.00" y="237.30" width="8.00" height="2.00" rx="1.30" ry="1.00" fill="#ebebeb" filter="url(#bl)"/>
<rect x="46.00" y="258.00" width="11.00" height="2.60" rx="1.69" ry="1.30" fill="#a0a0a0" filter="url(#bl)"/>
<rect x="60.90" y="258.00" width="11.00" height="2.60" rx="1.69" ry="1.30" fill="#2a2a2a" filter="url(#bl)"/>
<rect x="74.70" y="258.00" width="11.00" height="2.60" rx="1.69" ry="1.30" fill="#222" filter="url(#bl)"/>
<rect x="88.80" y="258.00" width="11.00" height="2.60" rx="1.69" ry="1.30" fill="#1a1a1a" filter="url(#bl)"/>
<rect x="103.80" y="258.00" width="11.00" height="2.60" rx="1.69" ry="1.30" fill="#222" filter="url(#bl)"/>
<rect x="119.50" y="258.00" width="11.00" height="2.60" rx="1.69" ry="1.30" fill="#1c1c1c" filter="url(#bl)"/>
<rect x="43.75" y="274.10" width="15.50" height="5.40" rx="3.51" ry="2.70" fill="#080808" filter="url(#bl)" transform="rotate(-3 51.50 276.80)"/>
<rect x="58.65" y="273.65" width="15.50" height="5.40" rx="3.51" ry="2.70" fill="#080808" filter="url(#bl)" transform="rotate(-3 66.40 276.35)"/>
<rect x="72.45" y="273.20" width="15.50" height="5.40" rx="3.51" ry="2.70" fill="#080808" filter="url(#bl)" transform="rotate(-3 80.20 275.90)"/>
<rect x="86.55" y="272.75" width="15.50" height="5.40" rx="3.51" ry="2.70" fill="#080808" filter="url(#bl)" transform="rotate(-3 94.30 275.45)"/>
<rect x="101.55" y="272.30" width="15.50" height="5.40" rx="3.51" ry="2.70" fill="#080808" filter="url(#bl)" transform="rotate(-3 109.30 275.00)"/>
<rect x="117.25" y="271.85" width="15.50" height="5.40" rx="3.51" ry="2.70" fill="#080808" filter="url(#bl)" transform="rotate(-3 125.00 274.55)"/>
<text x="15.40" y="185.60" font-size="6.1" text-anchor="start" font-weight="normal" fill="#1a1a1a" >p-CDK9</text>
<text x="15.40" y="220.30" font-size="6.1" text-anchor="start" font-weight="normal" fill="#1a1a1a" >CDK9</text>
<text x="15.40" y="240.80" font-size="6.1" text-anchor="start" font-weight="normal" fill="#1a1a1a" >MCL-1</text>
<text x="15.40" y="261.30" font-size="6.1" text-anchor="start" font-weight="normal" fill="#1a1a1a" >PARP_cl</text>
<text x="15.40" y="278.60" font-size="6.1" text-anchor="start" font-weight="normal" fill="#1a1a1a" >Actin</text>
<line x1="134.30" y1="175.80" x2="136.70" y2="175.80" stroke="#333" stroke-width="0.8" />
<text x="138.30" y="177.90" font-size="6.1" text-anchor="start" font-weight="normal" fill="#1a1a1a" >50 kDa</text>
<line x1="134.30" y1="193.80" x2="136.70" y2="193.80" stroke="#333" stroke-width="0.8" />
<text x="138.30" y="195.90" font-size="6.1" text-anchor="start" font-weight="normal" fill="#1a1a1a" >37 kDa</text>
<line x1="134.30" y1="209.70" x2="136.70" y2="209.70" stroke="#333" stroke-width="0.8" />
<text x="138.30" y="211.80" font-size="6.1" text-anchor="start" font-weight="normal" fill="#1a1a1a" >50 kDa</text>
<line x1="134.30" y1="227.80" x2="136.70" y2="227.80" stroke="#333" stroke-width="0.8" />
<text x="138.30" y="229.90" font-size="6.1" text-anchor="start" font-weight="normal" fill="#1a1a1a" >37 kDa</text>
<line x1="134.30" y1="242.70" x2="136.70" y2="242.70" stroke="#333" stroke-width="0.8" />
<text x="138.30" y="244.80" font-size="6.1" text-anchor="start" font-weight="normal" fill="#1a1a1a" >37 kDa</text>
<line x1="134.30" y1="258.20" x2="136.70" y2="258.20" stroke="#333" stroke-width="0.8" />
<text x="138.30" y="260.30" font-size="6.1" text-anchor="start" font-weight="normal" fill="#1a1a1a" >100 kDa</text>
<line x1="134.30" y1="268.90" x2="136.70" y2="268.90" stroke="#333" stroke-width="0.8" />
<text x="138.30" y="271.00" font-size="6.1" text-anchor="start" font-weight="normal" fill="#1a1a1a" >50 kDa</text>
<line x1="134.30" y1="277.70" x2="136.70" y2="277.70" stroke="#333" stroke-width="0.8" />
<text x="138.30" y="279.80" font-size="6.1" text-anchor="start" font-weight="normal" fill="#1a1a1a" >37 kDa</text>
<text x="170.80" y="144.00" font-size="10.5" text-anchor="start" font-weight="bold" fill="#000" stroke="#000" stroke-width="0.3">D</text>
<text x="266.00" y="152.60" font-size="8.6" text-anchor="middle" textLength="118.5" lengthAdjust="spacingAndGlyphs" fill="#1a1a1a">Patient-derived organoid (PBN-R)</text>
<line x1="206.80" y1="162.00" x2="206.80" y2="249.30" stroke="#1a1a1a" stroke-width="1.0" />
<line x1="204.00" y1="249.30" x2="206.80" y2="249.30" stroke="#1a1a1a" stroke-width="1.0" />
<text x="201.00" y="251.50" font-size="6.1" text-anchor="end" font-weight="normal" fill="#1a1a1a" letter-spacing="0.2">0</text>
<line x1="204.00" y1="227.90" x2="206.80" y2="227.90" stroke="#1a1a1a" stroke-width="1.0" />
<text x="201.00" y="230.10" font-size="6.1" text-anchor="end" font-weight="normal" fill="#1a1a1a" letter-spacing="0.2">50</text>
<line x1="204.00" y1="206.50" x2="206.80" y2="206.50" stroke="#1a1a1a" stroke-width="1.0" />
<text x="201.00" y="208.70" font-size="6.1" text-anchor="end" font-weight="normal" fill="#1a1a1a" letter-spacing="0.2">100</text>
<line x1="204.00" y1="185.10" x2="206.80" y2="185.10" stroke="#1a1a1a" stroke-width="1.0" />
<text x="201.00" y="187.30" font-size="6.1" text-anchor="end" font-weight="normal" fill="#1a1a1a" letter-spacing="0.2">150</text>
<line x1="204.00" y1="163.70" x2="206.80" y2="163.70" stroke="#1a1a1a" stroke-width="1.0" />
<text x="201.00" y="165.90" font-size="6.1" text-anchor="end" font-weight="normal" fill="#1a1a1a" letter-spacing="0.2">200</text>
<line x1="206.80" y1="249.30" x2="324.50" y2="249.30" stroke="#1a1a1a" stroke-width="1.0" />
<line x1="220.70" y1="249.30" x2="220.70" y2="251.90" stroke="#1a1a1a" stroke-width="0.9" />
<line x1="243.30" y1="249.30" x2="243.30" y2="251.90" stroke="#1a1a1a" stroke-width="0.9" />
<line x1="265.90" y1="249.30" x2="265.90" y2="251.90" stroke="#1a1a1a" stroke-width="0.9" />
<line x1="288.30" y1="249.30" x2="288.30" y2="251.90" stroke="#1a1a1a" stroke-width="0.9" />
<line x1="310.90" y1="249.30" x2="310.90" y2="251.90" stroke="#1a1a1a" stroke-width="0.9" />
<rect x="211.90" y="206.93" width="17.6" height="42.37" fill="#8a7fbf"/>
<line x1="220.70" y1="206.93" x2="220.70" y2="202.13" stroke="#8a7fbf" stroke-width="0.7" />
<line x1="216.20" y1="202.13" x2="225.20" y2="202.13" stroke="#8a7fbf" stroke-width="0.7" />
<rect x="234.50" y="208.55" width="17.6" height="40.75" fill="#e2197f"/>
<line x1="243.30" y1="208.55" x2="243.30" y2="203.08" stroke="#e2197f" stroke-width="0.7" />
<line x1="238.80" y1="203.08" x2="247.80" y2="203.08" stroke="#e2197f" stroke-width="0.7" />
<rect x="257.10" y="209.67" width="17.6" height="39.63" fill="#27a7df"/>
<line x1="265.90" y1="209.67" x2="265.90" y2="204.10" stroke="#27a7df" stroke-width="0.7" />
<line x1="261.40" y1="204.10" x2="270.40" y2="204.10" stroke="#27a7df" stroke-width="0.7" />
<rect x="279.50" y="245.36" width="17.6" height="3.94" fill="#3c9d43"/>
<line x1="288.30" y1="245.36" x2="288.30" y2="243.39" stroke="#3c9d43" stroke-width="0.7" />
<line x1="283.80" y1="243.39" x2="292.80" y2="243.39" stroke="#3c9d43" stroke-width="0.7" />
<rect x="302.10" y="245.70" width="17.6" height="3.60" fill="#c31d3b"/>
<line x1="310.90" y1="245.70" x2="310.90" y2="244.16" stroke="#c31d3b" stroke-width="0.7" />
<line x1="306.40" y1="244.16" x2="315.40" y2="244.16" stroke="#c31d3b" stroke-width="0.7" />
<polyline points="220.40,186.40 220.40,174.30 310.90,174.30 310.90,239.30" stroke="#5e5e5e" stroke-width="0.8" fill="none" stroke-linejoin="miter" />
<polyline points="220.40,197.90 220.40,192.40 288.30,192.40 288.30,238.30" stroke="#5e5e5e" stroke-width="0.8" fill="none" stroke-linejoin="miter" />
<text x="267.20" y="172.80" font-size="5.2" text-anchor="middle" font-weight="normal" fill="#1a1a1a" >****</text>
<text x="252.70" y="192.20" font-size="5.2" text-anchor="middle" font-weight="normal" fill="#1a1a1a" >****</text>
<text x="183.20" y="207.88" font-size="8" text-anchor="middle" textLength="52" lengthAdjust="spacingAndGlyphs" fill="#1a1a1a" font-weight="normal" stroke="#1a1a1a" stroke-width="0.32" transform="rotate(-90 183.20 205.00)">Cell viability (%, 3D)</text>
<text x="224.70" y="258.60" font-size="6.1" text-anchor="end" fill="#1a1a1a" transform="rotate(-43 224.70 258.60)">DMSO</text>
<text x="247.30" y="258.60" font-size="6.1" text-anchor="end" fill="#1a1a1a" transform="rotate(-43 247.30 258.60)">Pirtobrutinib</text>
<text x="269.90" y="258.60" font-size="6.1" text-anchor="end" fill="#1a1a1a" transform="rotate(-43 269.90 258.60)">Acalabrutinib</text>
<text x="292.30" y="258.60" font-size="6.1" text-anchor="end" fill="#1a1a1a" transform="rotate(-43 292.30 258.60)">AZD4573</text>
<text x="314.90" y="258.60" font-size="6.1" text-anchor="end" fill="#1a1a1a" transform="rotate(-43 314.90 258.60)">YX0798</text>
<text x="350.40" y="144.60" font-size="10.5" text-anchor="start" font-weight="bold" fill="#000" stroke="#000" stroke-width="0.3">E</text>
<text x="450.20" y="156.30" font-size="8.6" text-anchor="middle" textLength="47.7" lengthAdjust="spacingAndGlyphs" fill="#1a1a1a">Tumor growth</text>
<line x1="386.70" y1="161.50" x2="386.70" y2="245.90" stroke="#1a1a1a" stroke-width="1.0" />
<line x1="383.90" y1="245.90" x2="386.70" y2="245.90" stroke="#1a1a1a" stroke-width="1.0" />
<text x="380.10" y="248.10" font-size="6.1" text-anchor="end" font-weight="normal" fill="#1a1a1a" letter-spacing="0.2">0</text>
<line x1="383.90" y1="229.52" x2="386.70" y2="229.52" stroke="#1a1a1a" stroke-width="1.0" />
<text x="380.10" y="231.72" font-size="6.1" text-anchor="end" font-weight="normal" fill="#1a1a1a" letter-spacing="0.2">1000</text>
<line x1="383.90" y1="213.14" x2="386.70" y2="213.14" stroke="#1a1a1a" stroke-width="1.0" />
<text x="380.10" y="215.34" font-size="6.1" text-anchor="end" font-weight="normal" fill="#1a1a1a" letter-spacing="0.2">2000</text>
<line x1="383.90" y1="196.76" x2="386.70" y2="196.76" stroke="#1a1a1a" stroke-width="1.0" />
<text x="380.10" y="198.96" font-size="6.1" text-anchor="end" font-weight="normal" fill="#1a1a1a" letter-spacing="0.2">3000</text>
<line x1="383.90" y1="180.38" x2="386.70" y2="180.38" stroke="#1a1a1a" stroke-width="1.0" />
<text x="380.10" y="182.58" font-size="6.1" text-anchor="end" font-weight="normal" fill="#1a1a1a" letter-spacing="0.2">4000</text>
<line x1="383.90" y1="164.00" x2="386.70" y2="164.00" stroke="#1a1a1a" stroke-width="1.0" />
<text x="380.10" y="166.20" font-size="6.1" text-anchor="end" font-weight="normal" fill="#1a1a1a" letter-spacing="0.2">5000</text>
<line x1="386.70" y1="245.90" x2="510.20" y2="245.90" stroke="#1a1a1a" stroke-width="1.0" />
<line x1="386.70" y1="245.90" x2="386.70" y2="248.50" stroke="#1a1a1a" stroke-width="1.0" />
<text x="386.80" y="257.30" font-size="6.1" text-anchor="middle" font-weight="normal" fill="#1a1a1a" letter-spacing="0.2">0</text>
<line x1="417.55" y1="245.90" x2="417.55" y2="248.50" stroke="#1a1a1a" stroke-width="1.0" />
<text x="417.65" y="257.30" font-size="6.1" text-anchor="middle" font-weight="normal" fill="#1a1a1a" letter-spacing="0.2">10</text>
<line x1="448.40" y1="245.90" x2="448.40" y2="248.50" stroke="#1a1a1a" stroke-width="1.0" />
<text x="448.50" y="257.30" font-size="6.1" text-anchor="middle" font-weight="normal" fill="#1a1a1a" letter-spacing="0.2">20</text>
<line x1="479.25" y1="245.90" x2="479.25" y2="248.50" stroke="#1a1a1a" stroke-width="1.0" />
<text x="479.35" y="257.30" font-size="6.1" text-anchor="middle" font-weight="normal" fill="#1a1a1a" letter-spacing="0.2">30</text>
<line x1="510.10" y1="245.90" x2="510.10" y2="248.50" stroke="#1a1a1a" stroke-width="1.0" />
<text x="510.20" y="257.30" font-size="6.1" text-anchor="middle" font-weight="normal" fill="#1a1a1a" letter-spacing="0.2">40</text>
<text x="357.60" y="207.98" font-size="8" text-anchor="middle" textLength="57.7" lengthAdjust="spacingAndGlyphs" fill="#1a1a1a" font-weight="normal" stroke="#1a1a1a" stroke-width="0.32" transform="rotate(-90 357.60 205.10)">Tumor volume (mm<tspan font-size="4.5" dy="-2">3</tspan><tspan dy="2">)</tspan></text>
<text x="450.00" y="268.68" font-size="8" text-anchor="middle" textLength="64" lengthAdjust="spacingAndGlyphs" fill="#1a1a1a" font-weight="normal" stroke="#1a1a1a" stroke-width="0.32">Days post cell inoculation</text>
<line x1="485.42" y1="183.66" x2="485.42" y2="200.86" stroke="#5b87bf" stroke-width="0.6" />
<line x1="483.82" y1="183.66" x2="487.02" y2="183.66" stroke="#5b87bf" stroke-width="0.6" />
<line x1="483.82" y1="200.86" x2="487.02" y2="200.86" stroke="#5b87bf" stroke-width="0.6" />
<line x1="494.67" y1="176.29" x2="494.67" y2="194.47" stroke="#5b87bf" stroke-width="0.6" />
<line x1="493.07" y1="176.29" x2="496.27" y2="176.29" stroke="#5b87bf" stroke-width="0.6" />
<line x1="493.07" y1="194.47" x2="496.27" y2="194.47" stroke="#5b87bf" stroke-width="0.6" />
<line x1="494.67" y1="216.09" x2="494.67" y2="223.30" stroke="#3fae4a" stroke-width="0.6" />
<line x1="493.07" y1="216.09" x2="496.27" y2="216.09" stroke="#3fae4a" stroke-width="0.6" />
<line x1="493.07" y1="223.30" x2="496.27" y2="223.30" stroke="#3fae4a" stroke-width="0.6" />
<line x1="485.42" y1="225.43" x2="485.42" y2="230.01" stroke="#3fae4a" stroke-width="0.6" />
<line x1="483.82" y1="225.43" x2="487.02" y2="225.43" stroke="#3fae4a" stroke-width="0.6" />
<line x1="483.82" y1="230.01" x2="487.02" y2="230.01" stroke="#3fae4a" stroke-width="0.6" />
<polyline points="386.70,245.90 439.14,244.75 460.74,243.12 479.25,242.13 485.42,230.01 494.67,223.30" stroke="#3fae4a" stroke-width="0.9" fill="none" stroke-linejoin="miter" />
<polyline points="386.70,245.90 439.14,244.92 460.74,243.77 479.25,242.62 485.42,232.96 494.67,229.19" stroke="#d3202f" stroke-width="1.1" fill="none" stroke-linejoin="miter" />
<polyline points="386.70,245.90 439.14,244.59 460.74,242.62 479.25,241.31 485.42,200.86 494.67,194.47" stroke="#1f4f86" stroke-width="1.3" fill="none" stroke-linejoin="miter" />
<path d="M386.70,244.58 L387.96,246.96 L385.44,246.96 Z" fill="#3fae4a"/>
<path d="M439.14,243.43 L440.40,245.81 L437.88,245.81 Z" fill="#3fae4a"/>
<path d="M460.74,241.80 L462.00,244.17 L459.48,244.17 Z" fill="#3fae4a"/>
<path d="M479.25,240.81 L480.51,243.19 L477.99,243.19 Z" fill="#3fae4a"/>
<path d="M485.42,228.69 L486.68,231.07 L484.16,231.07 Z" fill="#3fae4a"/>
<path d="M494.67,221.98 L495.93,224.35 L493.41,224.35 Z" fill="#3fae4a"/>
<rect x="385.50" y="244.70" width="2.40" height="2.40" fill="#d3202f"/>
<rect x="437.94" y="243.72" width="2.40" height="2.40" fill="#d3202f"/>
<rect x="459.54" y="242.57" width="2.40" height="2.40" fill="#d3202f"/>
<rect x="478.05" y="241.42" width="2.40" height="2.40" fill="#d3202f"/>
<rect x="484.22" y="231.76" width="2.40" height="2.40" fill="#d3202f"/>
<rect x="493.47" y="227.99" width="2.40" height="2.40" fill="#d3202f"/>
<circle cx="386.70" cy="245.90" r="1.60" fill="#1f4f86"/>
<circle cx="439.14" cy="244.59" r="1.60" fill="#1f4f86"/>
<circle cx="460.74" cy="242.62" r="1.60" fill="#1f4f86"/>
<circle cx="479.25" cy="241.31" r="1.60" fill="#1f4f86"/>
<circle cx="485.42" cy="200.86" r="1.60" fill="#1f4f86"/>
<circle cx="494.67" cy="194.47" r="1.60" fill="#1f4f86"/>
<line x1="393.80" y1="173.30" x2="402.60" y2="173.30" stroke="#1f4f86" stroke-width="0.9" />
<circle cx="398.20" cy="173.30" r="1.40" fill="#1f4f86"/>
<text x="405.00" y="175.50" font-size="6.2" text-anchor="start" font-weight="normal" fill="#1a1a1a" >Vehicle</text>
<line x1="393.80" y1="183.80" x2="402.60" y2="183.80" stroke="#d3202f" stroke-width="0.9" />
<rect x="396.80" y="182.40" width="2.80" height="2.80" fill="#d3202f"/>
<text x="405.00" y="186.00" font-size="6.2" text-anchor="start" font-weight="normal" fill="#1a1a1a" >YX0798</text>
<line x1="393.80" y1="194.40" x2="402.60" y2="194.40" stroke="#3fae4a" stroke-width="0.9" />
<path d="M398.20,192.86 L399.67,195.63 L396.73,195.63 Z" fill="#3fae4a"/>
<text x="405.00" y="196.60" font-size="6.2" text-anchor="start" font-weight="normal" fill="#1a1a1a" >AZD4573</text>
<polyline points="429.40,171.20 431.80,171.20 431.80,184.90 429.40,184.90" stroke="#333" stroke-width="0.8" fill="none" stroke-linejoin="miter" />
<polyline points="439.80,171.30 442.30,171.30 442.30,195.80 439.80,195.80" stroke="#333" stroke-width="0.8" fill="none" stroke-linejoin="miter" />
<circle cx="436.3" cy="176.2" r="0.6" fill="#222"/>
<circle cx="436.3" cy="178.4" r="0.6" fill="#222"/>
<circle cx="436.3" cy="180.6" r="0.6" fill="#222"/>
<circle cx="446.4" cy="182.6" r="0.6" fill="#222"/>
<circle cx="446.4" cy="184.8" r="0.6" fill="#222"/>
<text x="69.00" y="302.20" font-size="10.5" text-anchor="start" font-weight="bold" fill="#000" stroke="#000" stroke-width="0.3">F</text>
<text x="164.30" y="306.30" font-size="8.6" text-anchor="middle" textLength="26.7" lengthAdjust="spacingAndGlyphs" fill="#1a1a1a">Survival</text>
<line x1="101.00" y1="311.50" x2="101.00" y2="393.80" stroke="#1a1a1a" stroke-width="1.0" />
<line x1="98.20" y1="393.80" x2="101.00" y2="393.80" stroke="#1a1a1a" stroke-width="1.0" />
<text x="96.00" y="396.00" font-size="6.1" text-anchor="end" font-weight="normal" fill="#1a1a1a" letter-spacing="0.2">0</text>
<line x1="98.20" y1="378.94" x2="101.00" y2="378.94" stroke="#1a1a1a" stroke-width="1.0" />
<text x="96.00" y="381.14" font-size="6.1" text-anchor="end" font-weight="normal" fill="#1a1a1a" letter-spacing="0.2">20</text>
<line x1="98.20" y1="364.08" x2="101.00" y2="364.08" stroke="#1a1a1a" stroke-width="1.0" />
<text x="96.00" y="366.28" font-size="6.1" text-anchor="end" font-weight="normal" fill="#1a1a1a" letter-spacing="0.2">40</text>
<line x1="98.20" y1="349.22" x2="101.00" y2="349.22" stroke="#1a1a1a" stroke-width="1.0" />
<text x="96.00" y="351.42" font-size="6.1" text-anchor="end" font-weight="normal" fill="#1a1a1a" letter-spacing="0.2">60</text>
<line x1="98.20" y1="334.36" x2="101.00" y2="334.36" stroke="#1a1a1a" stroke-width="1.0" />
<text x="96.00" y="336.56" font-size="6.1" text-anchor="end" font-weight="normal" fill="#1a1a1a" letter-spacing="0.2">80</text>
<line x1="98.20" y1="319.50" x2="101.00" y2="319.50" stroke="#1a1a1a" stroke-width="1.0" />
<text x="96.00" y="321.70" font-size="6.1" text-anchor="end" font-weight="normal" fill="#1a1a1a" letter-spacing="0.2">100</text>
<line x1="101.00" y1="393.80" x2="227.50" y2="393.80" stroke="#1a1a1a" stroke-width="1.0" />
<line x1="101.00" y1="393.80" x2="101.00" y2="396.40" stroke="#1a1a1a" stroke-width="0.8" />
<line x1="105.13" y1="393.80" x2="105.13" y2="395.20" stroke="#1a1a1a" stroke-width="0.8" />
<line x1="109.26" y1="393.80" x2="109.26" y2="395.20" stroke="#1a1a1a" stroke-width="0.8" />
<line x1="113.39" y1="393.80" x2="113.39" y2="395.20" stroke="#1a1a1a" stroke-width="0.8" />
<line x1="117.52" y1="393.80" x2="117.52" y2="395.20" stroke="#1a1a1a" stroke-width="0.8" />
<line x1="121.65" y1="393.80" x2="121.65" y2="395.20" stroke="#1a1a1a" stroke-width="0.8" />
<line x1="125.78" y1="393.80" x2="125.78" y2="395.20" stroke="#1a1a1a" stroke-width="0.8" />
<line x1="129.91" y1="393.80" x2="129.91" y2="395.20" stroke="#1a1a1a" stroke-width="0.8" />
<line x1="134.04" y1="393.80" x2="134.04" y2="395.20" stroke="#1a1a1a" stroke-width="0.8" />
<line x1="138.17" y1="393.80" x2="138.17" y2="395.20" stroke="#1a1a1a" stroke-width="0.8" />
<line x1="142.30" y1="393.80" x2="142.30" y2="396.40" stroke="#1a1a1a" stroke-width="0.8" />
<line x1="146.43" y1="393.80" x2="146.43" y2="395.20" stroke="#1a1a1a" stroke-width="0.8" />
<line x1="150.56" y1="393.80" x2="150.56" y2="395.20" stroke="#1a1a1a" stroke-width="0.8" />
<line x1="154.69" y1="393.80" x2="154.69" y2="395.20" stroke="#1a1a1a" stroke-width="0.8" />
<line x1="158.82" y1="393.80" x2="158.82" y2="395.20" stroke="#1a1a1a" stroke-width="0.8" />
<line x1="162.95" y1="393.80" x2="162.95" y2="395.20" stroke="#1a1a1a" stroke-width="0.8" />
<line x1="167.08" y1="393.80" x2="167.08" y2="395.20" stroke="#1a1a1a" stroke-width="0.8" />
<line x1="171.21" y1="393.80" x2="171.21" y2="395.20" stroke="#1a1a1a" stroke-width="0.8" />
<line x1="175.34" y1="393.80" x2="175.34" y2="395.20" stroke="#1a1a1a" stroke-width="0.8" />
<line x1="179.47" y1="393.80" x2="179.47" y2="395.20" stroke="#1a1a1a" stroke-width="0.8" />
<line x1="183.60" y1="393.80" x2="183.60" y2="396.40" stroke="#1a1a1a" stroke-width="0.8" />
<line x1="187.73" y1="393.80" x2="187.73" y2="395.20" stroke="#1a1a1a" stroke-width="0.8" />
<line x1="191.86" y1="393.80" x2="191.86" y2="395.20" stroke="#1a1a1a" stroke-width="0.8" />
<line x1="195.99" y1="393.80" x2="195.99" y2="395.20" stroke="#1a1a1a" stroke-width="0.8" />
<line x1="200.12" y1="393.80" x2="200.12" y2="395.20" stroke="#1a1a1a" stroke-width="0.8" />
<line x1="204.25" y1="393.80" x2="204.25" y2="395.20" stroke="#1a1a1a" stroke-width="0.8" />
<line x1="208.38" y1="393.80" x2="208.38" y2="395.20" stroke="#1a1a1a" stroke-width="0.8" />
<line x1="212.51" y1="393.80" x2="212.51" y2="395.20" stroke="#1a1a1a" stroke-width="0.8" />
<line x1="216.64" y1="393.80" x2="216.64" y2="395.20" stroke="#1a1a1a" stroke-width="0.8" />
<line x1="220.77" y1="393.80" x2="220.77" y2="395.20" stroke="#1a1a1a" stroke-width="0.8" />
<line x1="224.90" y1="393.80" x2="224.90" y2="396.40" stroke="#1a1a1a" stroke-width="0.8" />
<text x="101.10" y="405.20" font-size="6.1" text-anchor="middle" font-weight="normal" fill="#1a1a1a" letter-spacing="0.2">0</text>
<text x="142.40" y="405.20" font-size="6.1" text-anchor="middle" font-weight="normal" fill="#1a1a1a" letter-spacing="0.2">20</text>
<text x="183.70" y="405.20" font-size="6.1" text-anchor="middle" font-weight="normal" fill="#1a1a1a" letter-spacing="0.2">40</text>
<text x="225.00" y="405.20" font-size="6.1" text-anchor="middle" font-weight="normal" fill="#1a1a1a" letter-spacing="0.2">60</text>
<text x="81.00" y="355.88" font-size="8" text-anchor="middle" textLength="54" lengthAdjust="spacingAndGlyphs" fill="#1a1a1a" font-weight="normal" stroke="#1a1a1a" stroke-width="0.32" transform="rotate(-90 81.00 353.00)">Probability of survival</text>
<text x="164.50" y="415.38" font-size="8" text-anchor="middle" textLength="64.6" lengthAdjust="spacingAndGlyphs" fill="#1a1a1a" font-weight="normal" stroke="#1a1a1a" stroke-width="0.32">Days post cell inoculation</text>
<polyline points="101.00,319.50 179.47,319.50 179.47,319.50 179.47,319.50 179.47,338.07 180.50,338.07 180.50,356.65 181.53,356.65 181.53,375.23 195.99,375.23 195.99,375.23 195.99,375.23 195.99,393.80" stroke="#45a862" stroke-width="0.9" fill="none" stroke-linejoin="miter" />
<polyline points="101.00,319.50 179.47,319.50 179.47,319.50 179.47,319.50 179.47,349.22 186.70,349.22 186.70,349.22 186.70,349.22 186.70,364.08 198.06,364.08 198.06,364.08 198.06,364.08 198.06,378.94 204.25,378.94 204.25,378.94" stroke="#d23f6b" stroke-width="0.9" fill="none" stroke-linejoin="miter" />
<line x1="204.25" y1="377.64" x2="204.25" y2="380.24" stroke="#d23f6b" stroke-width="0.7" />
<line x1="201.15" y1="377.64" x2="201.15" y2="380.24" stroke="#d23f6b" stroke-width="0.7" />
<polyline points="101.00,319.50 163.98,319.50 163.98,319.50 163.98,319.50 163.98,334.36 172.24,334.36 172.24,334.36 172.24,334.36 172.24,349.22 174.31,349.22 174.31,349.22 174.31,349.22 174.31,364.08 178.44,364.08 178.44,364.08 178.44,364.08 178.44,378.94 181.53,378.94 181.53,378.94 181.53,378.94 181.53,393.80" stroke="#3a6da6" stroke-width="0.9" fill="none" stroke-linejoin="miter" />
<line x1="186.20" y1="318.80" x2="195.40" y2="318.80" stroke="#3a6da6" stroke-width="0.8" />
<line x1="190.80" y1="317.60" x2="190.80" y2="320.00" stroke="#3a6da6" stroke-width="0.6" />
<text x="198.20" y="321.00" font-size="6.2" text-anchor="start" font-weight="normal" fill="#1a1a1a" >Vehicle (36d)</text>
<line x1="186.20" y1="329.30" x2="195.40" y2="329.30" stroke="#d23f6b" stroke-width="0.8" />
<line x1="190.80" y1="328.10" x2="190.80" y2="330.50" stroke="#d23f6b" stroke-width="0.6" />
<text x="198.20" y="331.50" font-size="6.2" text-anchor="start" font-weight="normal" fill="#1a1a1a" >YX0798 (42d)</text>
<line x1="186.20" y1="340.70" x2="195.40" y2="340.70" stroke="#45a862" stroke-width="0.8" />
<line x1="190.80" y1="339.50" x2="190.80" y2="341.90" stroke="#45a862" stroke-width="0.6" />
<text x="198.20" y="342.90" font-size="6.2" text-anchor="start" font-weight="normal" fill="#1a1a1a" >AZD4573 (38.5d)</text>
<line x1="244.60" y1="320.40" x2="244.60" y2="333.50" stroke="#333" stroke-width="0.7" />
<line x1="250.50" y1="320.00" x2="250.50" y2="338.80" stroke="#333" stroke-width="0.7" />
<text x="247.20" y="328.50" font-size="5.5" text-anchor="middle" font-weight="normal" fill="#1a1a1a" >*</text>
<text x="253.2" y="328.8" font-size="5" text-anchor="middle" fill="#222" transform="rotate(90 253.2 328.8)">ns</text>
<text x="291.80" y="302.20" font-size="10.5" text-anchor="start" font-weight="bold" fill="#000" stroke="#000" stroke-width="0.3">G</text>
<text x="390.00" y="306.60" font-size="8.6" text-anchor="middle" textLength="43.8" lengthAdjust="spacingAndGlyphs" fill="#1a1a1a">Body weight</text>
<line x1="327.60" y1="312.50" x2="327.60" y2="396.30" stroke="#1a1a1a" stroke-width="1.0" />
<line x1="324.80" y1="396.30" x2="327.60" y2="396.30" stroke="#1a1a1a" stroke-width="1.0" />
<text x="321.80" y="398.50" font-size="6.1" text-anchor="end" font-weight="normal" fill="#1a1a1a" letter-spacing="0.2">0</text>
<line x1="324.80" y1="375.80" x2="327.60" y2="375.80" stroke="#1a1a1a" stroke-width="1.0" />
<text x="321.80" y="378.00" font-size="6.1" text-anchor="end" font-weight="normal" fill="#1a1a1a" letter-spacing="0.2">10</text>
<line x1="324.80" y1="355.30" x2="327.60" y2="355.30" stroke="#1a1a1a" stroke-width="1.0" />
<text x="321.80" y="357.50" font-size="6.1" text-anchor="end" font-weight="normal" fill="#1a1a1a" letter-spacing="0.2">20</text>
<line x1="324.80" y1="334.80" x2="327.60" y2="334.80" stroke="#1a1a1a" stroke-width="1.0" />
<text x="321.80" y="337.00" font-size="6.1" text-anchor="end" font-weight="normal" fill="#1a1a1a" letter-spacing="0.2">30</text>
<line x1="324.80" y1="314.30" x2="327.60" y2="314.30" stroke="#1a1a1a" stroke-width="1.0" />
<text x="321.80" y="316.50" font-size="6.1" text-anchor="end" font-weight="normal" fill="#1a1a1a" letter-spacing="0.2">40</text>
<line x1="327.60" y1="396.30" x2="452.60" y2="396.30" stroke="#1a1a1a" stroke-width="1.0" />
<line x1="340.90" y1="396.30" x2="340.90" y2="398.90" stroke="#1a1a1a" stroke-width="1.0" />
<text x="341.00" y="407.70" font-size="6.1" text-anchor="middle" font-weight="normal" fill="#1a1a1a" letter-spacing="0.2">0</text>
<line x1="368.20" y1="396.30" x2="368.20" y2="398.90" stroke="#1a1a1a" stroke-width="1.0" />
<text x="368.30" y="407.70" font-size="6.1" text-anchor="middle" font-weight="normal" fill="#1a1a1a" letter-spacing="0.2">10</text>
<line x1="395.50" y1="396.30" x2="395.50" y2="398.90" stroke="#1a1a1a" stroke-width="1.0" />
<text x="395.60" y="407.70" font-size="6.1" text-anchor="middle" font-weight="normal" fill="#1a1a1a" letter-spacing="0.2">20</text>
<line x1="422.80" y1="396.30" x2="422.80" y2="398.90" stroke="#1a1a1a" stroke-width="1.0" />
<text x="422.90" y="407.70" font-size="6.1" text-anchor="middle" font-weight="normal" fill="#1a1a1a" letter-spacing="0.2">30</text>
<line x1="450.10" y1="396.30" x2="450.10" y2="398.90" stroke="#1a1a1a" stroke-width="1.0" />
<text x="450.20" y="407.70" font-size="6.1" text-anchor="middle" font-weight="normal" fill="#1a1a1a" letter-spacing="0.2">40</text>
<text x="305.20" y="356.88" font-size="8" text-anchor="middle" textLength="42" lengthAdjust="spacingAndGlyphs" fill="#1a1a1a" font-weight="normal" stroke="#1a1a1a" stroke-width="0.32" transform="rotate(-90 305.20 354.00)">Body weight (g)</text>
<text x="389.90" y="418.68" font-size="8" text-anchor="middle" textLength="64.7" lengthAdjust="spacingAndGlyphs" fill="#1a1a1a" font-weight="normal" stroke="#1a1a1a" stroke-width="0.32">Days post cell inoculation</text>
<line x1="370.93" y1="347.31" x2="370.93" y2="352.63" stroke="#d3202f" stroke-width="0.6" />
<line x1="369.63" y1="347.31" x2="372.23" y2="347.31" stroke="#d3202f" stroke-width="0.6" />
<line x1="369.63" y1="352.63" x2="372.23" y2="352.63" stroke="#d3202f" stroke-width="0.6" />
<line x1="370.93" y1="341.98" x2="370.93" y2="346.89" stroke="#3d6ea5" stroke-width="0.6" />
<line x1="369.63" y1="341.98" x2="372.23" y2="341.98" stroke="#3d6ea5" stroke-width="0.6" />
<line x1="369.63" y1="346.89" x2="372.23" y2="346.89" stroke="#3d6ea5" stroke-width="0.6" />
<line x1="387.31" y1="346.69" x2="387.31" y2="352.02" stroke="#d3202f" stroke-width="0.6" />
<line x1="386.01" y1="346.69" x2="388.61" y2="346.69" stroke="#d3202f" stroke-width="0.6" />
<line x1="386.01" y1="352.02" x2="388.61" y2="352.02" stroke="#d3202f" stroke-width="0.6" />
<line x1="387.31" y1="343.62" x2="387.31" y2="348.54" stroke="#3d6ea5" stroke-width="0.6" />
<line x1="386.01" y1="343.62" x2="388.61" y2="343.62" stroke="#3d6ea5" stroke-width="0.6" />
<line x1="386.01" y1="348.54" x2="388.61" y2="348.54" stroke="#3d6ea5" stroke-width="0.6" />
<line x1="406.42" y1="347.72" x2="406.42" y2="353.05" stroke="#d3202f" stroke-width="0.6" />
<line x1="405.12" y1="347.72" x2="407.72" y2="347.72" stroke="#d3202f" stroke-width="0.6" />
<line x1="405.12" y1="353.05" x2="407.72" y2="353.05" stroke="#d3202f" stroke-width="0.6" />
<line x1="406.42" y1="343.41" x2="406.42" y2="348.33" stroke="#3d6ea5" stroke-width="0.6" />
<line x1="405.12" y1="343.41" x2="407.72" y2="343.41" stroke="#3d6ea5" stroke-width="0.6" />
<line x1="405.12" y1="348.33" x2="407.72" y2="348.33" stroke="#3d6ea5" stroke-width="0.6" />
<line x1="422.80" y1="347.72" x2="422.80" y2="353.05" stroke="#d3202f" stroke-width="0.6" />
<line x1="421.50" y1="347.72" x2="424.10" y2="347.72" stroke="#d3202f" stroke-width="0.6" />
<line x1="421.50" y1="353.05" x2="424.10" y2="353.05" stroke="#d3202f" stroke-width="0.6" />
<line x1="422.80" y1="343.00" x2="422.80" y2="347.92" stroke="#3d6ea5" stroke-width="0.6" />
<line x1="421.50" y1="343.00" x2="424.10" y2="343.00" stroke="#3d6ea5" stroke-width="0.6" />
<line x1="421.50" y1="347.92" x2="424.10" y2="347.92" stroke="#3d6ea5" stroke-width="0.6" />
<line x1="428.26" y1="345.67" x2="428.26" y2="351.00" stroke="#d3202f" stroke-width="0.6" />
<line x1="426.96" y1="345.67" x2="429.56" y2="345.67" stroke="#d3202f" stroke-width="0.6" />
<line x1="426.96" y1="351.00" x2="429.56" y2="351.00" stroke="#d3202f" stroke-width="0.6" />
<line x1="428.26" y1="336.85" x2="428.26" y2="341.77" stroke="#3d6ea5" stroke-width="0.6" />
<line x1="426.96" y1="336.85" x2="429.56" y2="336.85" stroke="#3d6ea5" stroke-width="0.6" />
<line x1="426.96" y1="341.77" x2="429.56" y2="341.77" stroke="#3d6ea5" stroke-width="0.6" />
<line x1="436.45" y1="342.38" x2="436.45" y2="347.72" stroke="#d3202f" stroke-width="0.6" />
<line x1="435.15" y1="342.38" x2="437.75" y2="342.38" stroke="#d3202f" stroke-width="0.6" />
<line x1="435.15" y1="347.72" x2="437.75" y2="347.72" stroke="#d3202f" stroke-width="0.6" />
<line x1="436.45" y1="345.05" x2="436.45" y2="349.97" stroke="#3d6ea5" stroke-width="0.6" />
<line x1="435.15" y1="345.05" x2="437.75" y2="345.05" stroke="#3d6ea5" stroke-width="0.6" />
<line x1="435.15" y1="349.97" x2="437.75" y2="349.97" stroke="#3d6ea5" stroke-width="0.6" />
<line x1="436.45" y1="341.98" x2="436.45" y2="352.23" stroke="#1f4f86" stroke-width="0.6" />
<line x1="435.15" y1="341.98" x2="437.75" y2="341.98" stroke="#1f4f86" stroke-width="0.6" />
<line x1="435.15" y1="352.23" x2="437.75" y2="352.23" stroke="#1f4f86" stroke-width="0.6" />
<line x1="428.26" y1="335.21" x2="428.26" y2="343.00" stroke="#1f4f86" stroke-width="0.6" />
<line x1="426.96" y1="335.21" x2="429.56" y2="335.21" stroke="#1f4f86" stroke-width="0.6" />
<line x1="426.96" y1="343.00" x2="429.56" y2="343.00" stroke="#1f4f86" stroke-width="0.6" />
<polyline points="326.70,349.97 370.93,349.97 387.31,349.36 406.42,350.38 422.80,350.38 428.26,348.33 436.45,345.05" stroke="#d3202f" stroke-width="1.0" fill="none" stroke-linejoin="miter" />
<polyline points="326.70,347.10 370.93,347.10 387.31,348.54 406.42,349.15 422.80,349.15 428.26,344.64 436.45,345.05" stroke="#3fae4a" stroke-width="1.0" fill="none" stroke-linejoin="miter" />
<polyline points="326.70,345.46 370.93,344.44 387.31,346.08 406.42,345.87 422.80,345.46 428.26,339.31 436.45,347.51" stroke="#1f4f86" stroke-width="1.1" fill="none" stroke-linejoin="miter" />
<rect x="369.83" y="348.87" width="2.20" height="2.20" fill="#d3202f"/>
<rect x="386.21" y="348.25" width="2.20" height="2.20" fill="#d3202f"/>
<rect x="405.32" y="349.28" width="2.20" height="2.20" fill="#d3202f"/>
<rect x="421.70" y="349.28" width="2.20" height="2.20" fill="#d3202f"/>
<rect x="427.16" y="347.23" width="2.20" height="2.20" fill="#d3202f"/>
<rect x="435.35" y="343.95" width="2.20" height="2.20" fill="#d3202f"/>
<path d="M370.93,345.89 L372.08,348.07 L369.77,348.07 Z" fill="#3fae4a"/>
<path d="M387.31,347.33 L388.46,349.50 L386.15,349.50 Z" fill="#3fae4a"/>
<path d="M406.42,347.94 L407.57,350.12 L405.26,350.12 Z" fill="#3fae4a"/>
<path d="M422.80,347.94 L423.95,350.12 L421.64,350.12 Z" fill="#3fae4a"/>
<path d="M428.26,343.43 L429.41,345.61 L427.11,345.61 Z" fill="#3fae4a"/>
<path d="M436.45,343.84 L437.60,346.02 L435.30,346.02 Z" fill="#3fae4a"/>
<circle cx="370.93" cy="344.44" r="1.50" fill="#1f4f86"/>
<circle cx="387.31" cy="346.08" r="1.50" fill="#1f4f86"/>
<circle cx="406.42" cy="345.87" r="1.50" fill="#1f4f86"/>
<circle cx="422.80" cy="345.46" r="1.50" fill="#1f4f86"/>
<circle cx="428.26" cy="339.31" r="1.50" fill="#1f4f86"/>
<circle cx="436.45" cy="347.51" r="1.50" fill="#1f4f86"/>
<line x1="334.80" y1="313.50" x2="343.60" y2="313.50" stroke="#1f4f86" stroke-width="0.9" />
<circle cx="339.40" cy="313.50" r="1.40" fill="#1f4f86"/>
<text x="346.30" y="315.70" font-size="6.2" text-anchor="start" font-weight="normal" fill="#1a1a1a" >Vehicle</text>
<line x1="334.80" y1="324.40" x2="343.60" y2="324.40" stroke="#d3202f" stroke-width="0.9" />
<rect x="338.00" y="323.00" width="2.80" height="2.80" fill="#d3202f"/>
<text x="346.30" y="326.60" font-size="6.2" text-anchor="start" font-weight="normal" fill="#1a1a1a" >YX0798</text>
<line x1="334.80" y1="335.40" x2="343.60" y2="335.40" stroke="#3fae4a" stroke-width="0.9" />
<path d="M339.40,333.86 L340.87,336.63 L337.93,336.63 Z" fill="#3fae4a"/>
<text x="346.30" y="337.60" font-size="6.2" text-anchor="start" font-weight="normal" fill="#1a1a1a" >AZD4573</text>
<rect x="0.5" y="0.5" width="519" height="427" fill="none" stroke="#555" stroke-width="1"/>
</svg></body></html>
